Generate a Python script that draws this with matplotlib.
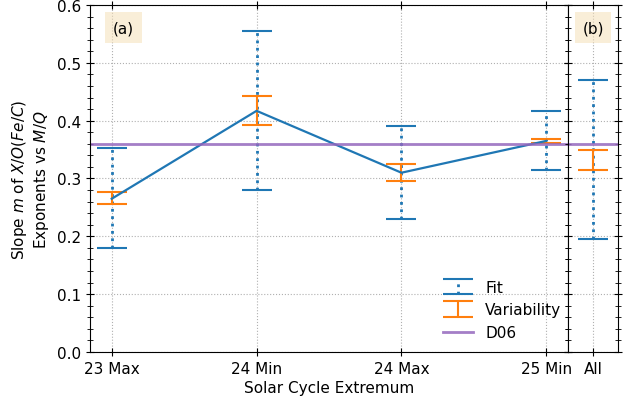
import matplotlib
matplotlib.use('Agg')
import matplotlib.pyplot as plt
import numpy as np
from matplotlib.ticker import AutoMinorLocator

plt.rcParams['font.size'] = 11

# valeurs
periods = ['23 Max', '24 Min', '24 Max', '25 Min']
slope = [0.265, 0.417, 0.310, 0.365]
fit_lo = [0.180, 0.280, 0.230, 0.315]
fit_hi = [0.353, 0.555, 0.390, 0.417]
var_lo = [0.256, 0.393, 0.295, 0.362]
var_hi = [0.277, 0.442, 0.325, 0.368]

all_slope = [0.332]
all_fit_lo = [0.195]
all_fit_hi = [0.470]
all_var_lo = [0.315]
all_var_hi = [0.349]

d06 = 0.36

fig = plt.figure(figsize=(6.32, 4.02), dpi=100)
ax = fig.add_axes([90/632, 1-353/402, 478/632, 347/402])
ax2 = fig.add_axes([568/632, 1-353/402, 50/632, 347/402], sharey=ax)


def draw(a, x, y, flo, fhi, vlo, vhi, line=True):
    y = np.array(y)
    ferr = [y - np.array(flo), np.array(fhi) - y]
    verr = [y - np.array(vlo), np.array(vhi) - y]
    eb = a.errorbar(x, y, yerr=ferr, fmt='none', color='C0', capsize=11,
                    elinewidth=2, capthick=1.5, label='Fit')
    eb[2][0].set_linestyle(':')
    a.errorbar(x, y, yerr=verr, fmt='none', color='C1', capsize=11,
               elinewidth=1.5, capthick=1.5, label='Variability')
    if line:
        a.plot(x, y, color='C0', lw=1.6)
    a.axhline(d06, color='C4', lw=2, alpha=0.85, label='D06')


x = np.arange(len(periods))
draw(ax, x, slope, fit_lo, fit_hi, var_lo, var_hi)
draw(ax2, [0], all_slope, all_fit_lo, all_fit_hi, all_var_lo, all_var_hi, line=False)

ax.set_xlim(-0.15, 3.15)
ax.set_ylim(0, 0.6)
ax.set_xticks(x)
ax.set_xticklabels(periods)
ax2.set_xlim(-0.5, 0.5)
ax2.set_xticks([0])
ax2.set_xticklabels(['All'])
plt.setp(ax2.get_yticklabels(), visible=False)

for a in (ax, ax2):
    a.yaxis.set_minor_locator(AutoMinorLocator(5))
    a.tick_params(which='both', direction='inout', top=True, right=True)
    a.tick_params(which='major', length=6)
    a.tick_params(which='minor', length=4)
    a.grid(True, ls=':', color='#b0b0b0')

box = dict(boxstyle='square,pad=0.5', facecolor='wheat', alpha=0.5, edgecolor='none')
ax.text(0.07, 0.935, '(a)', transform=ax.transAxes, ha='center', va='center', bbox=box)
ax2.text(0.5, 0.935, '(b)', transform=ax2.transAxes, ha='center', va='center', bbox=box)

ax.set_ylabel('Slope $m$ of $X/O(Fe/C)$\nExponents vs $M/Q$')
ax.set_xlabel('Solar Cycle Extremum', labelpad=3)

h, l = ax.get_legend_handles_labels()
order = [l.index('Fit'), l.index('Variability'), l.index('D06')]
ax.legend([h[i] for i in order], [l[i] for i in order],
          loc='lower right', bbox_to_anchor=(1.015, -0.005), frameon=False)

fig.savefig('out.png', dpi=100)
